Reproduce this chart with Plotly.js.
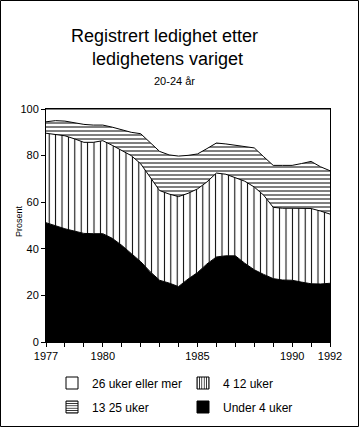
<!DOCTYPE html>
<html>
<head>
<meta charset="utf-8">
<script src="https://cdn.plot.ly/plotly-3.0.1.min.js"></script>
<style>
html,body{margin:0;padding:0;background:#fff;}
#chart{width:360px;height:428px;}
</style>
</head>
<body>
<div id="chart"></div>
<script>
// Half-year observation points
var years = [1977,1977.5,1978,1978.5,1979,1979.5,1980,1980.5,1981,1981.5,1982,1982.5,1983,1983.5,1984,1984.5,1985,1985.5,1986,1986.5,1987,1987.5,1988,1988.5,1989,1989.5,1990,1990.5,1991,1991.5,1992];
// Shares (percent) by duration
var under4  = [51.2,49.8,48.6,47.6,46.6,46.5,46.5,44.5,41.5,38.0,34.5,30.2,26.5,25.3,23.8,27.0,29.8,33.5,36.5,37.0,37.0,33.8,31.0,29.0,27.2,26.6,26.5,25.7,25.0,24.9,25.2];
var w4to12  = [38.4,39.3,39.9,39.6,39.1,39.2,39.9,39.9,40.6,42.0,42.0,40.8,38.5,38.2,38.6,36.8,35.9,35.2,36.0,35.0,33.5,35.2,35.5,34.0,30.6,30.8,30.9,31.7,32.3,31.3,29.7];
var w13to25 = [4.9,5.9,6.3,6.9,7.7,7.4,6.7,7.8,9.1,10.0,12.9,14.5,16.8,16.8,17.4,16.3,15.0,14.3,12.9,13.0,14.0,15.0,16.8,16.5,18.0,18.4,18.4,19.2,20.2,19.0,18.6];
var w26plus = [5.5,5.0,5.2,5.9,6.6,6.9,6.9,7.8,8.8,10.0,10.6,14.5,18.2,19.7,20.2,19.9,19.3,17.0,14.6,15.0,15.5,16.0,16.7,20.5,24.2,24.2,24.2,23.4,22.5,24.8,26.5];

var seriesNames = ["Under 4 uker","4 12 uker","13 25 uker","26 uker eller mer"];
var tickYears = [1977,1978,1979,1980,1981,1982,1983,1984,1985,1986,1987,1988,1989,1990,1991,1992];
var tickLabels = ["1977","","","1980","","","","","1985","","","","","1990","","1992"];
var titleLines = ["Registrert ledighet etter","ledighetens variget","20-24 år"];
var yTitle = "Prosent";

var vPat = {shape:"|", size:6.4, solidity:0.16, fgcolor:"black", bgcolor:"white", fgopacity:1};
var hPat = {shape:"-", size:4, solidity:0.25, fgcolor:"black", bgcolor:"white", fgopacity:1};
var line = {color:"black", width:1};

// legend placement: row 1 = 26+ , 4-12 ; row 2 = 13-25 , under 4
var styles = [
  {fillcolor:"black", pattern:null, legend:"legend2", rank:2},
  {fillcolor:"white", pattern:vPat, legend:"legend", rank:2},
  {fillcolor:"white", pattern:hPat, legend:"legend2", rank:1},
  {fillcolor:"white", pattern:null, legend:"legend", rank:1}
];
var vals = [under4, w4to12, w13to25, w26plus];

var traces = [];
for (var i=0;i<4;i++){
  var t = {
    type:"scatter", mode:"lines", x:years, y:vals[i], stackgroup:"one",
    line:line, fillcolor:styles[i].fillcolor, showlegend:false, hoverinfo:"skip", name:seriesNames[i]
  };
  if (styles[i].pattern) t.fillpattern = styles[i].pattern;
  traces.push(t);
}
// legend-only entries (no visible data)
for (var j=0;j<4;j++){
  var m = {color:styles[j].fillcolor, line:{color:"black", width:1}};
  if (styles[j].pattern) m.pattern = {shape:styles[j].pattern.shape, size:3, solidity:0.3, fgcolor:"black", bgcolor:"white"};
  traces.push({type:"bar", x:[years[0]], y:[null], name:seriesNames[j], marker:m, legend:styles[j].legend, legendrank:styles[j].rank, showlegend:true, hoverinfo:"skip"});
}

var L=46, R=30, T=109, B=86, PW=360-L-R, PH=428-T-B;
function px(x){return (x-L)/PW;}
function py(y){return (428-B-y)/PH;}

var fam = "Arial, Liberation Sans, sans-serif";
function leg(yc){
  return {orientation:"h", x:px(52), y:py(yc), xanchor:"left", yanchor:"middle",
          entrywidth:86, entrywidthmode:"pixels", font:{size:12, family:fam, color:"black"}, traceorder:"normal", bgcolor:"rgba(0,0,0,0)"};
}
var layout = {
  width:360, height:428,
  margin:{l:L, r:R, t:T, b:B, pad:0, autoexpand:false},
  paper_bgcolor:"white", plot_bgcolor:"white",
  font:{family:fam, color:"black", size:11},
  showlegend:true,
  legend:leg(383),
  legend2:leg(407),
  xaxis:{range:[1977,1992], tickmode:"array", tickvals:tickYears, ticktext:tickLabels, ticks:"outside", ticklen:4, tickwidth:1, tickcolor:"black",
         showline:true, linecolor:"black", linewidth:1, mirror:true, showgrid:false, zeroline:false, fixedrange:true, tickfont:{size:11}},
  yaxis:{range:[0,100], tickmode:"linear", tick0:0, dtick:20, ticks:"outside", ticklen:4, tickwidth:1, tickcolor:"black",
         showline:true, linecolor:"black", linewidth:1, mirror:true, showgrid:false, zeroline:false, fixedrange:true, tickfont:{size:11}},
  annotations:[
    {text:titleLines[0], xref:"paper", yref:"paper", x:px(164), y:py(36), xanchor:"center", yanchor:"middle", showarrow:false, font:{size:18}},
    {text:titleLines[1], xref:"paper", yref:"paper", x:px(167), y:py(59), xanchor:"center", yanchor:"middle", showarrow:false, font:{size:18}},
    {text:titleLines[2], xref:"paper", yref:"paper", x:px(174), y:py(81), xanchor:"center", yanchor:"middle", showarrow:false, font:{size:11}},
    {text:yTitle, xref:"paper", yref:"paper", x:px(19), y:py(221), xanchor:"center", yanchor:"middle", textangle:-90, showarrow:false, font:{size:9}}
  ],
  shapes:[
    {type:"rect", xref:"paper", yref:"paper", x0:px(0.5), x1:px(358.5), y0:py(426.5), y1:py(0.5), line:{color:"black", width:1}, fillcolor:"rgba(0,0,0,0)", layer:"above"}
  ]
};
Plotly.newPlot("chart", traces, layout, {staticPlot:true, displayModeBar:false});
</script>
</body>
</html>
